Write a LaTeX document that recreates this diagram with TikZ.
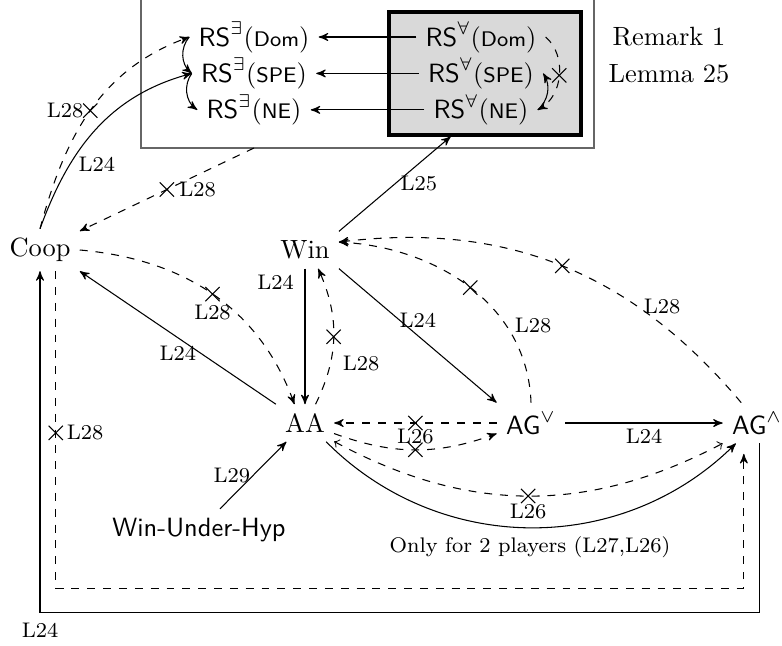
\documentclass[tikz,border=0pt]{standalone}
\usepackage{amsmath}
\usepackage{tikz}
\usetikzlibrary{arrows,shapes.misc}

\begin{document}
\begin{tikzpicture}[->,>=stealth',x=0.3788pt,y=-0.3788pt,node distance=13.8pt,
    lab/.style={font=\footnotesize,inner sep=1pt},
    nogo/.style={draw,solid,-,cross out,minimum size=5pt,inner sep=0pt},
    only2/.style={font=\footnotesize}]

  \useasboundingbox (0,0) rectangle (782,645);

  % boxes round the RS notions
  \draw[-,black!60] (141,-10) rectangle (594,148);
  \node[draw,very thick,fill=black!15,minimum width=72.7pt,minimum height=46.6pt] (allbox) at (485,73.5) {};
  \coordinate (outfoot) at (254,148);

  \node (rsEdom) at (254,37) {$\mathsf{RS}^{\exists}(\text{\footnotesize\sffamily Dom})$};
  \node (rsEspe) [below of=rsEdom] {$\mathsf{RS}^{\exists}(\text{\footnotesize\sffamily SPE})$};
  \node (rsEne) [below of=rsEspe] {$\mathsf{RS}^{\exists}(\text{\footnotesize\sffamily NE})$};
  \node (rsAdom) at (481,37) {$\mathsf{RS}^{\forall}(\text{\footnotesize\sffamily Dom})$};
  \node (rsAspe) [below of=rsAdom] {$\mathsf{RS}^{\forall}(\text{\footnotesize\sffamily SPE})$};
  \node (rsAne) [below of=rsAspe] {$\mathsf{RS}^{\forall}(\text{\footnotesize\sffamily NE})$};
  \node (remark) at (669,37) {Remark 1};
  \node (lemma) [below of=remark] {Lemma 25};

  \node (coop) at (40,250) {Coop};
  \node (win) at (305,250) {Win};
  \node (aa) at (305,423) {AA};
  \node (agor) at (531,423) {$\mathsf{AG}^{\vee}$};
  \node (agand) at (757,423) {$\mathsf{AG}^{\wedge}$};
  \node (wuh) at (199,530) {\textsf{Win-Under-Hyp}};
  \node[only2] (only2) at (530,547) {Only for 2 players (L27,L26)};

  % inside the RS box
  \path (rsEdom.west) edge[bend right=45] (rsEspe.west)
        (rsEspe.west) edge[bend right=45] (rsEne.west)
        (rsAdom) edge (rsEdom)
        (rsAspe) edge (rsEspe)
        (rsAne) edge (rsEne)
        (rsAdom.east) edge[dashed,bend left=55] node[nogo] {} (rsAne.east)
        (rsAne.east) edge[bend right=40] (rsAspe.east);

  \path (win.north east) edge node[lab,right=1pt] {L25} ([xshift=-13pt]allbox.south)
        (coop.north) edge[out=70,in=195] node[lab,pos=0.3,right=2pt] {L24} (rsEspe.west)
        (coop.north) edge[dashed,out=75,in=200] node[nogo] {} node[lab,left=1.5pt] {L28} (rsEdom.west)
        (outfoot) edge[dashed] node[nogo] {} node[lab,right=3.5pt] {L28} (coop);

  % the main implications
  \path (coop.east) edge[dashed,out=-5,in=110] node[nogo] {} node[lab,below=3pt] {L28} ([xshift=-4pt]aa.north)
        (aa.north west) edge node[lab,below=2pt] {L24} (coop.south east)
        (win) edge node[lab,pos=0.1,left=3pt] {L24} (aa)
        ([xshift=4pt]aa.north) edge[dashed,bend right=25] node[nogo] {} node[lab,pos=0.3,right=3.5pt] {L28} ([xshift=5pt]win.south)
        (win.south east) edge node[lab,above=2pt] {L24} (agor.north west)
        (agor.north) edge[dashed,out=92,in=-3] node[nogo] {} node[lab,pos=0.3,right=2pt] {L28} ([yshift=3pt]win.east)
        ([xshift=-6pt]agand.north) edge[dashed,out=130,in=7] node[nogo] {} node[lab,pos=0.3,right=1pt] {L28} ([yshift=3pt]win.east)
        (agor.west) edge[dashed] node[nogo] {} (aa.east)
        ([yshift=-4pt]aa.east) edge[dashed,bend right=20] node[nogo] {} node[lab,above=1pt] {L26} ([yshift=-4pt]agor.west)
        ([yshift=-7pt]aa.east) edge[dashed,to-to,bend right=28] node[nogo] {} node[lab,below=2pt] {L26} (agand.south west)
        ([xshift=-3pt]aa.south east) edge[bend right=45] ([xshift=-8pt]agand.south)
        (agor) edge node[lab,below=1pt] {L24} (agand)
        (wuh) edge node[lab,left] {L29} (aa);

  % round the bottom
  \draw ([xshift=1pt]agand.south) -- ++(0,169) -| node[lab,pos=0.5,below=3pt] {L24} (coop.south);
  \draw[dashed] ([xshift=6pt]coop.south) -- ++(0,317) node[nogo,pos=0.51] {} node[lab,pos=0.51,right=3pt] {L28}
      -| ([xshift=-5pt,yshift=-4pt]agand.south);

\end{tikzpicture}
\end{document}
